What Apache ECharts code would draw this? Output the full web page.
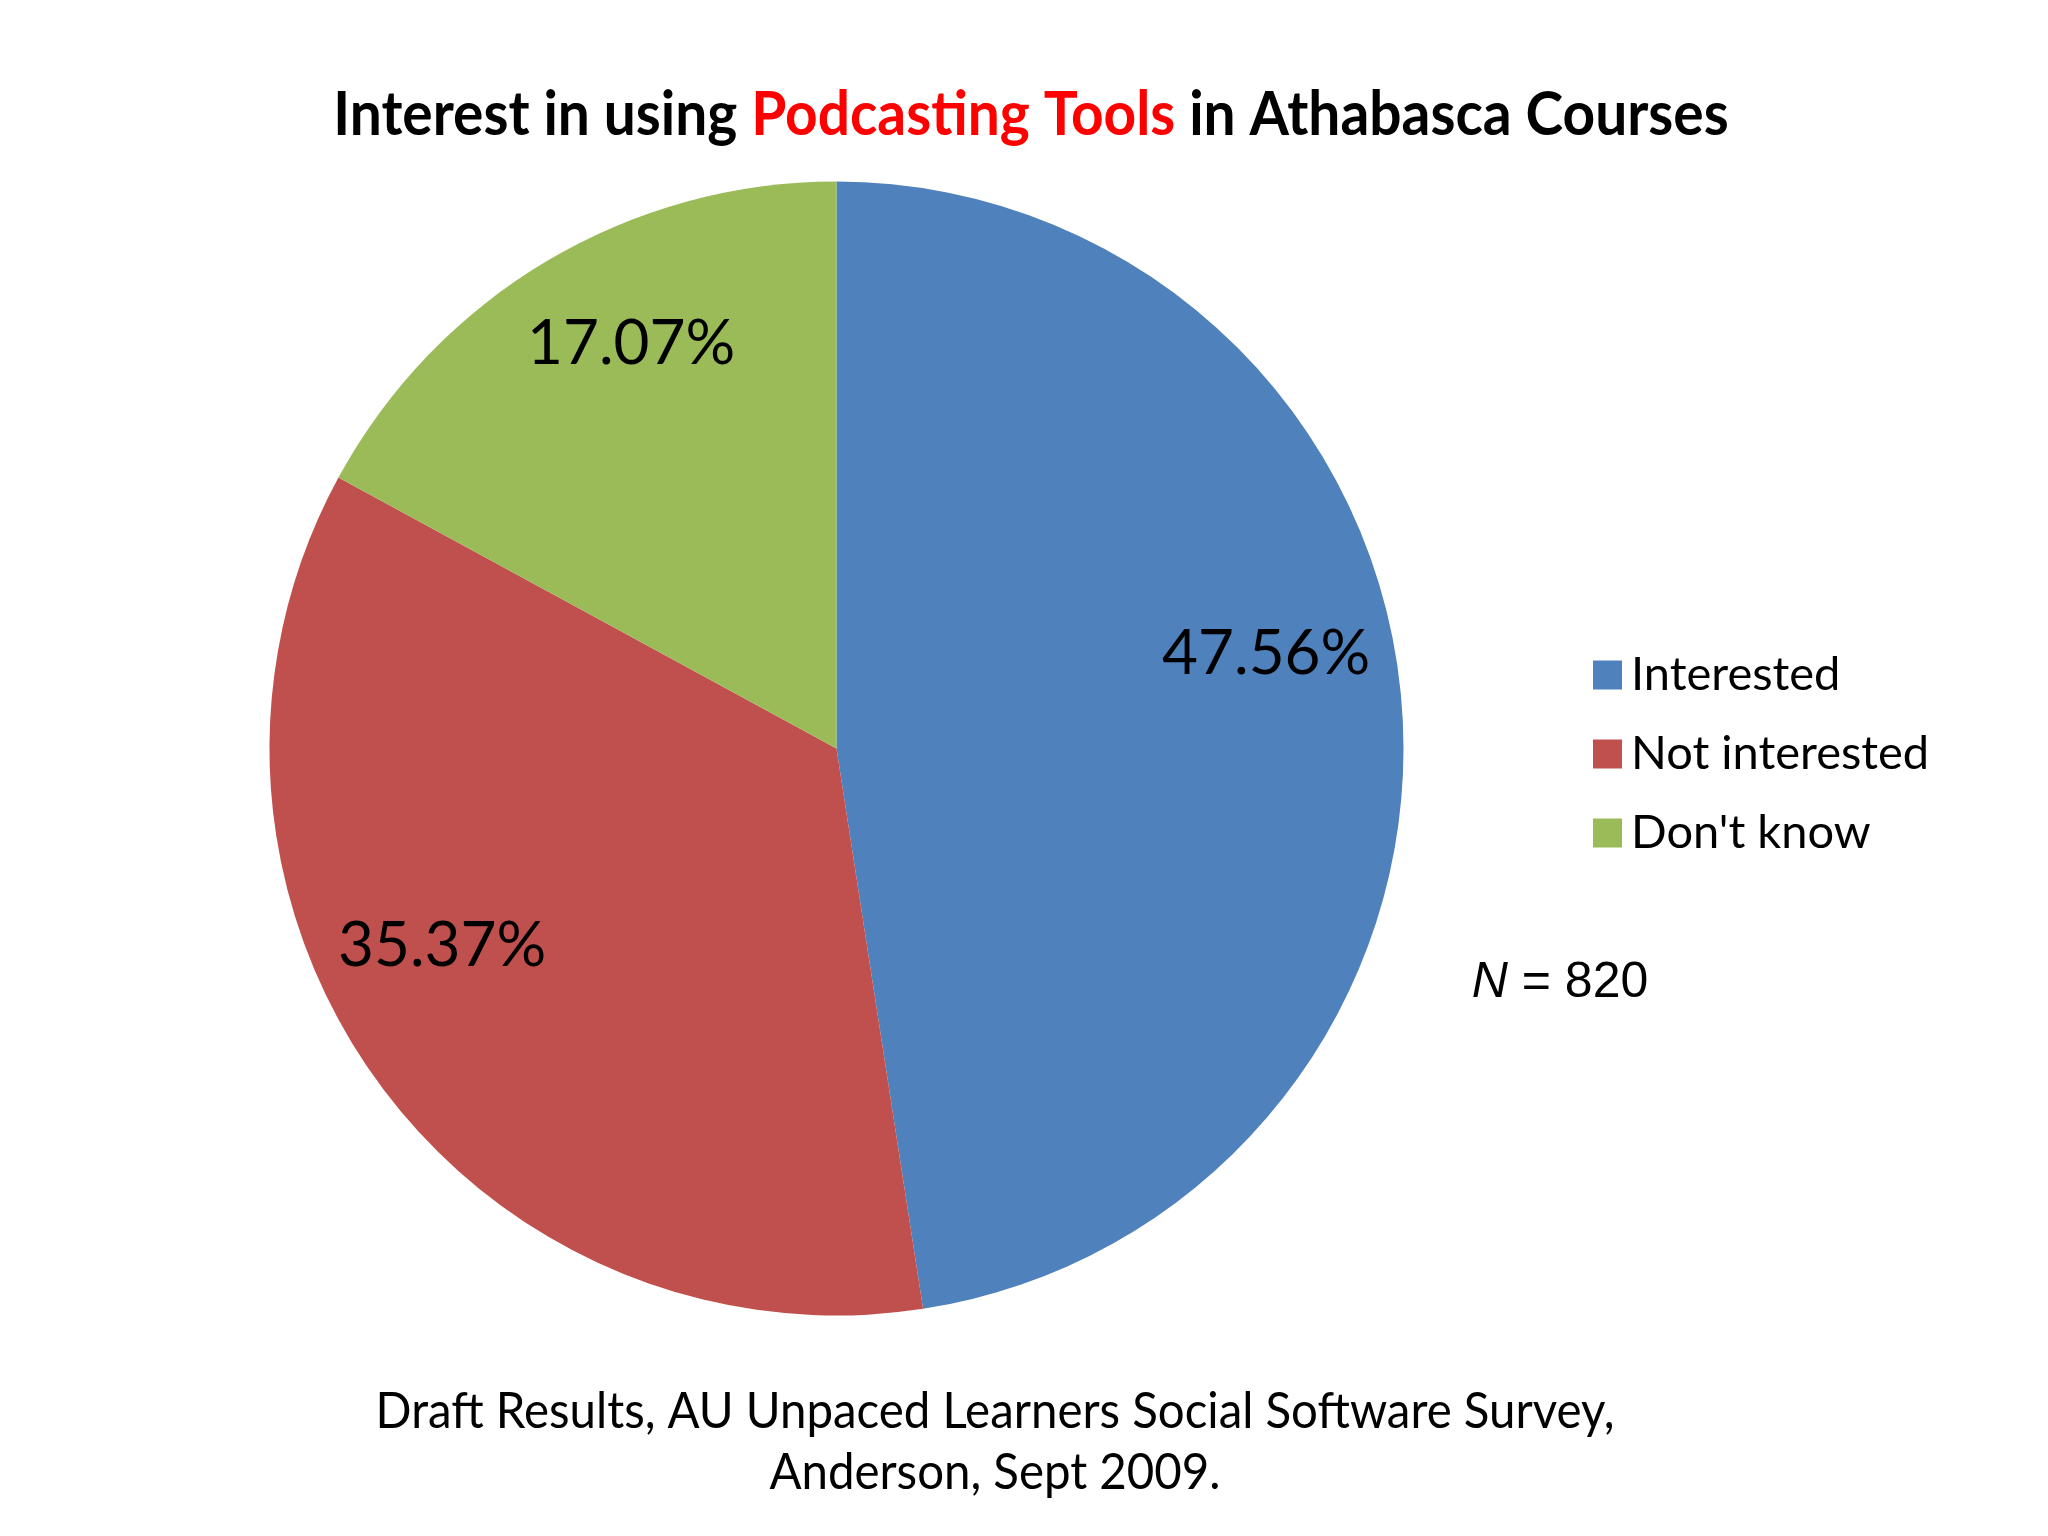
<!DOCTYPE html>
<html>
<head>
<meta charset="utf-8">
<script src="https://cdn.jsdelivr.net/npm/echarts@6/dist/echarts.min.js"></script>
<style>html,body{margin:0;padding:0;background:#fff}#c{width:2048px;height:1536px}</style>
</head>
<body>
<div id="c"></div>
<script>
const categories = ['Interested', 'Not interested', "Don't know"];
const values = [47.56, 35.37, 17.07];
const colors = ['#4F81BD', '#C0504D', '#9BBB59'];
const titleParts = ['Interest in using ', 'Podcasting Tools', ' in Athabasca Courses'];
const sampleNote = '820';
const footerLines = ['Draft Results, AU Unpaced Learners Social Software Survey,', 'Anderson, Sept 2009.'];

const labelOffsets = [[144, -73], [-160, 33], [-59, -158]];
const chart = echarts.init(document.getElementById('c'));
const font = 'Lato, "Open Sans", sans-serif';

chart.setOption({
  backgroundColor: '#ffffff',
  animation: false,
  color: colors,
  legend: {
    orient: 'vertical',
    left: 1588,
    top: 645,
    icon: 'rect',
    itemWidth: 29,
    itemHeight: 29,
    itemGap: 29,
    data: categories,
    textStyle: { fontFamily: font, fontSize: 47, lineHeight: 50, color: '#000', padding: [0, 0, 0, 4] }
  },
  graphic: [
    {
      type: 'text', x: 1031, y: 115, scaleX: 0.917,
      style: {
        text: '{b|' + titleParts[0] + '}{r|' + titleParts[1] + '}{b|' + titleParts[2] + '}',
        align: 'center', verticalAlign: 'middle',
        rich: {
          b: { fontFamily: font, fontWeight: 'bold', fontSize: 62, fill: '#000' },
          r: { fontFamily: font, fontWeight: 'bold', fontSize: 62, fill: '#FF0000' }
        }
      }
    },
    {
      type: 'text', x: 1560, y: 983,
      style: {
        text: '{i|N}{n| = ' + sampleNote + '}',
        align: 'center', verticalAlign: 'middle',
        rich: {
          i: { fontFamily: 'Liberation Sans, Arial, sans-serif', fontStyle: 'italic', fontSize: 50, fill: '#000' },
          n: { fontFamily: 'Liberation Sans, Arial, sans-serif', fontSize: 50, fill: '#000' }
        }
      }
    },
    {
      type: 'text', x: 995, y: 1442, scaleX: 0.948,
      style: {
        text: footerLines.join('\n'),
        align: 'center', verticalAlign: 'middle',
        fontFamily: font, fontSize: 50, lineHeight: 61, fill: '#000'
      }
    }
  ],
  series: [{
    type: 'pie',
    center: [836.5, 748.5],
    radius: 567,
    startAngle: 90,
    clockwise: true,
    label: {
      show: true,
      position: 'inside',
      fontFamily: font,
      fontSize: 62,
      color: '#000',
      formatter: p => p.value.toFixed(2) + '%'
    },
    labelLine: { show: false },
    itemStyle: { borderWidth: 0 },
    emphasis: { disabled: true },
    data: categories.map((c, i) => ({
      name: c, value: values[i],
      label: { offset: labelOffsets[i] }
    }))
  }]
});
</script>
</body>
</html>
